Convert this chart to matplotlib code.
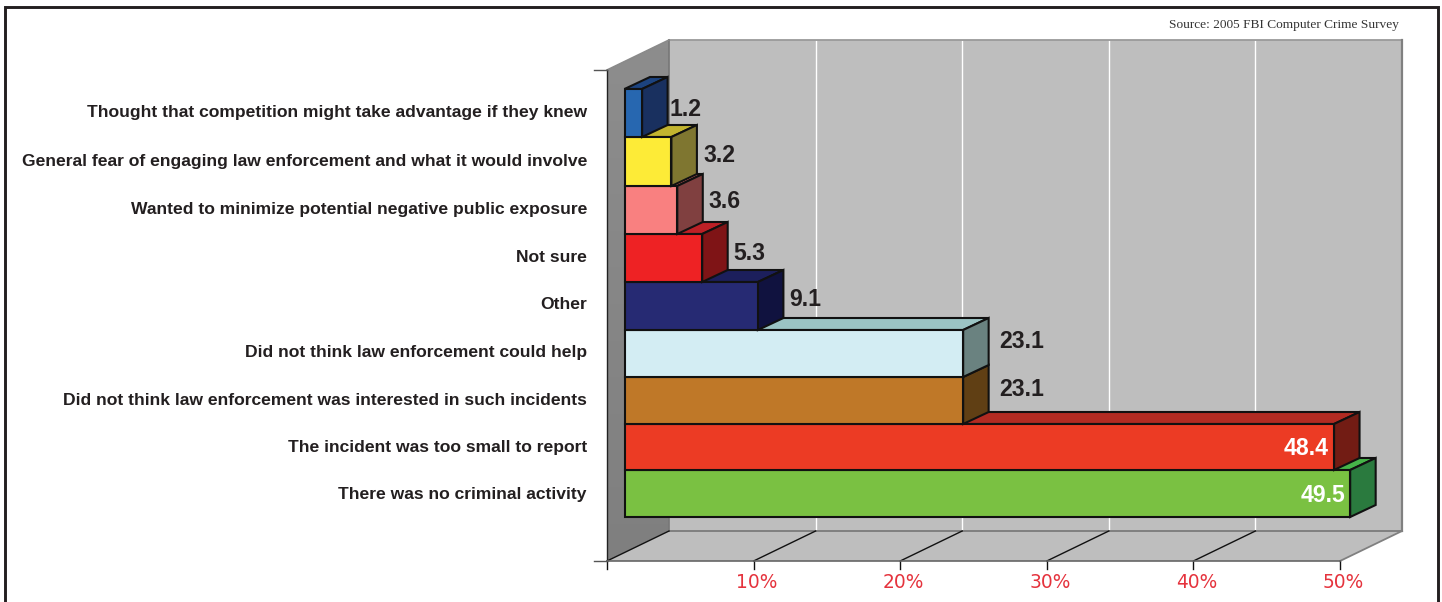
import matplotlib
matplotlib.use("Agg")
import matplotlib.pyplot as plt
from matplotlib.patches import Polygon, Rectangle
from matplotlib.transforms import Affine2D
import numpy as np

categories = [
    "Thought that competition might take advantage if they knew",
    "General fear of engaging law enforcement and what it would involve",
    "Wanted to minimize potential negative public exposure",
    "Not sure",
    "Other",
    "Did not think law enforcement could help",
    "Did not think law enforcement was interested in such incidents",
    "The incident was too small to report",
    "There was no criminal activity",
]
values = [1.2, 3.2, 3.6, 5.3, 9.1, 23.1, 23.1, 48.4, 49.5]
front_colors = ["#2767b0", "#fdeb37", "#f98080", "#ee2224", "#262a73", "#d3edf3", "#bf7828", "#ec3b24", "#7ac142"]
side_colors = ["#19305f", "#7f7630", "#804040", "#7f1416", "#10123f", "#6a8280", "#603f14", "#721c14", "#2a7a3e"]
top_colors = ["#1c437f", "#c3b52f", "#f06d6d", "#bd2026", "#1c1f5c", "#9bc4c4", "#8f5a1e", "#b22b22", "#46b549"]
xticks = [10, 20, 30, 40, 50]
xticklabels = ["10%", "20%", "30%", "40%", "50%"]
source = "Source: 2005 FBI Computer Crime Survey"

W, H = 1442, 602
PX_PER_PCT = 14.66
ROW_PX = 47.6
X0_PX = 607          # front floor 0 %
FLOOR_PX = 561       # front floor line (image y)
FIRST_TOP_PX = 89    # image y of top of first bar
ROW_EDGES_PX = [89, 137, 186, 234, 282, 330, 377, 424, 470, 517]

fig = plt.figure(figsize=(W / 100, H / 100), dpi=100, facecolor="white")
ax = fig.add_axes([0, 0, 1, 1])
y_at = lambda py: (py - FIRST_TOP_PX) / ROW_PX - 0.5


def set_limits():
    ax.set_xlim(-X0_PX / PX_PER_PCT, (W - X0_PX) / PX_PER_PCT)
    ax.set_ylim(y_at(H), y_at(0))


set_limits()
ax.axis("off")


def off(dx, dy):
    """data transform shifted by screen pixels (dy positive = up)"""
    return ax.transData + Affine2D().translate(dx, dy)


# ---- 3D frame, depth 62/30 px
WX, WY = 62, 30
floor_y = y_at(FLOOR_PX)
top_y = y_at(70)
xmax = 50.0
bg = "#bebebe"

# left wall with vertical grey gradient
grad = np.linspace(0, 1, 256).reshape(-1, 1)
cmap = matplotlib.colors.LinearSegmentedColormap.from_list("w", ["#8f8f8f", "#7f7f7f"])
im = ax.imshow(grad, cmap=cmap, aspect="auto", extent=(-0.5, 5, floor_y, top_y - 2), zorder=1)
clip = Polygon(
    np.vstack([
        ax.transData.transform([(0, floor_y), (0, top_y)]),
        ax.transData.transform([(0, top_y), (0, floor_y)]) + [WX, WY],
    ]),
    transform=None, facecolor="none", edgecolor="none",
)
ax.add_patch(clip)
im.set_clip_path(clip)
set_limits()

# back wall
ax.add_patch(Rectangle((0, top_y), xmax, floor_y - top_y, transform=off(WX, WY),
                       facecolor=bg, edgecolor="none", zorder=1))
# floor
flo = np.vstack([
    ax.transData.transform([(0, floor_y), (xmax, floor_y)]),
    ax.transData.transform([(xmax, floor_y), (0, floor_y)]) + [WX, WY],
])
ax.add_patch(Polygon(flo, transform=None, facecolor=bg, edgecolor="none", zorder=1))

# white gridlines on wall
for t in xticks[:-1]:
    ax.plot([t, t], [floor_y, top_y], transform=off(WX, WY), color="white", lw=1.0, zorder=2,
            solid_capstyle="butt")
# wall outlines
ax.plot([0, xmax], [top_y, top_y], transform=off(WX, WY), color="#9a9a9a", lw=1.3, zorder=2)
ax.plot([0, xmax], [floor_y, floor_y], transform=off(WX, WY), color="#808080", lw=1.4, zorder=2)
ax.plot([0, 0], [floor_y, top_y], transform=off(WX, WY), color="#777777", lw=1.2, zorder=2)
ax.plot([xmax, xmax], [floor_y, top_y], transform=off(WX, WY), color="#808080", lw=1.6, zorder=2)
ax.plot([0, 0], [floor_y, top_y], color="#222222", lw=1.0, zorder=3)
# wall top slanted
p0 = ax.transData.transform((0, top_y))
ax.plot([p0[0], p0[0] + WX], [p0[1], p0[1] + WY], transform=None, color="#8a8a8a", lw=1.2, zorder=2)
# floor right edge
p1 = ax.transData.transform((xmax, floor_y))
ax.plot([p1[0], p1[0] + WX], [p1[1], p1[1] + WY], transform=None, color="#808080", lw=1.3, zorder=2)
# floor lines and ticks
for t in [0] + xticks[:-1]:
    p = ax.transData.transform((t, floor_y))
    ax.plot([p[0], p[0] + WX], [p[1], p[1] + WY], transform=None, color="#111111", lw=1.0, zorder=2)
for t in [0] + xticks:
    p = ax.transData.transform((t, floor_y))
    ax.plot([p[0], p[0]], [p[1], p[1] - 8], transform=None, color="#111111", lw=1.0, zorder=3)
ax.plot([0, xmax], [floor_y, floor_y], color="#666666", lw=1.2, zorder=3)
# y ticks
for py in [70, FLOOR_PX]:
    ax.plot([X0_PX - 13, X0_PX], [H - py, H - py], transform=None, color="#555555", lw=1.0, zorder=3)

# x tick labels (centred a bit right of the tick)
for t, lab in zip(xticks, xticklabels):
    ax.text(ax.transData.transform((t, 0))[0] + 3, H - 582, lab, transform=None, color="#e5333d",
            fontsize=13.4, ha="center", va="center", family="DejaVu Sans", zorder=5)

# ---- bars
BX = 17.5           # x offset of bar front from front floor
DX, DY = 25.5, 12   # bar depth
edge = "#111111"
lw = 1.5

tr = off(BX, 0)
for i in range(len(values) - 1, -1, -1):
    v = values[i]
    z = 10 + (len(values) - i)
    top, bot = y_at(ROW_EDGES_PX[i]), y_at(ROW_EDGES_PX[i + 1])
    a = np.array(tr.transform([(0, top), (v, top), (v, bot)]))
    top_poly = [a[0], a[1], a[1] + [DX, DY], a[0] + [DX, DY]]
    side_poly = [a[1], a[1] + [DX, DY], a[2] + [DX, DY], a[2]]
    ax.add_patch(Polygon(top_poly, transform=None, facecolor=top_colors[i], edgecolor=edge,
                         lw=lw, joinstyle="miter", zorder=z))
    ax.add_patch(Polygon(side_poly, transform=None, facecolor=side_colors[i], edgecolor=edge,
                         lw=lw, joinstyle="miter", zorder=z))
    ax.barh((top + bot) / 2, v, height=bot - top, left=0, transform=tr, color=front_colors[i],
            edgecolor=edge, linewidth=lw, zorder=z)

set_limits()

# category labels
cat_nudge = [0, 1.5, 1.5, 1.5, 1, 2, 2, 1.5, 1]
for i, c in enumerate(categories):
    ax.text(587, H - (FIRST_TOP_PX + ROW_PX * (i + 0.5)) - cat_nudge[i], c, transform=None, ha="right", va="center",
            family="Liberation Sans", fontweight="bold", fontsize=12.6, color="#231f20", zorder=30)

# value labels
label_dx = [27, 32, 31, 31, 31, 36, 36, 0, 0]
label_py = [110, 155, 201, 253, 299, 342, 389, 448.5, 495.5]
for i, v in enumerate(values):
    bar_end = tr.transform((v, i))[0]
    if v > 40:
        ax.text(bar_end - 5, H - label_py[i], f"{v}", transform=None, ha="right", va="center",
                family="Liberation Sans", fontweight="bold", fontsize=16.6, color="white", zorder=30)
    else:
        ax.text(bar_end + label_dx[i], H - label_py[i], f"{v}", transform=None, ha="left", va="center",
                family="Liberation Sans", fontweight="bold", fontsize=16.6, color="#231f20", zorder=30)

# source
ax.text(1399, H - 25, source, transform=None, ha="right", va="center", family="Liberation Serif",
        fontsize=9.6, color="#333333", zorder=30)

# outer frame
fx = [5, 5, 1438, 1438]
fy = [-2, H - 7, H - 7, -2]
ax.plot(fx, fy, transform=None, color="#231f20", lw=2.1, zorder=40, solid_joinstyle="miter", clip_on=False)

fig.savefig("out.png", dpi=100)
